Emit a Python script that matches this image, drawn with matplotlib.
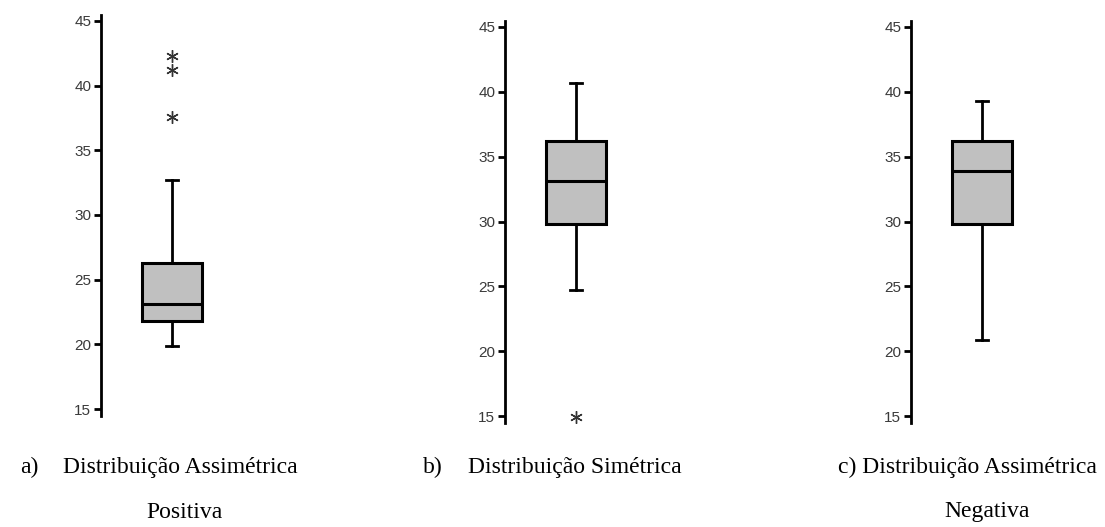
import matplotlib
matplotlib.use("Agg")
import matplotlib.pyplot as plt

# box summaries (whislo, q1, med, q3, whishi)
panels = ["a", "b", "c"]
whislo = [19.9, 24.7, 20.9]
q1 = [21.8, 29.8, 29.8]
med = [23.1, 33.1, 33.9]
q3 = [26.3, 36.2, 36.2]
whishi = [32.7, 40.7, 39.3]
fliers = [[37.6, 41.2, 42.3], [14.9], []]
yticks = [15, 20, 25, 30, 35, 40, 45]

captions = ["Distribuição Assimétrica", "Distribuição Simétrica", "Distribuição Assimétrica"]
prefixes = ["a)", "b)", "c)"]

W, H = 1105, 527
fig = plt.figure(figsize=(W / 100, H / 100), dpi=100)

# spine x position (px), top / bottom of axes (px)
spine_x = [101, 505, 911]
tops = [14.5, 20.5, 20.5]
bottoms = [415.5, 422.5, 422.5]

for i in range(3):
    left = spine_x[i] / W
    width = 142 / W
    bottom = 1 - bottoms[i] / H
    height = (bottoms[i] - tops[i]) / H
    ax = fig.add_axes([left, bottom, width, height])

    stats = [{
        "whislo": whislo[i], "q1": q1[i], "med": med[i],
        "q3": q3[i], "whishi": whishi[i], "fliers": fliers[i],
    }]
    ax.bxp(stats, positions=[1], widths=0.845, patch_artist=True,
           capwidths=0.17,
           boxprops=dict(facecolor="#c0c0c0", edgecolor="black", linewidth=2.2),
           medianprops=dict(color="black", linewidth=2.2),
           whiskerprops=dict(color="black", linewidth=2.0),
           capprops=dict(color="black", linewidth=2.0),
           flierprops=dict(marker=(6, 2, 0), markersize=9, markeredgecolor="#333333",
                           markeredgewidth=1.0, linestyle="none"))

    ax.set_xlim(0, 2)
    ax.set_ylim(14.5, 45.5)
    ax.set_yticks(yticks)
    ax.set_xticks([])
    for s in ["top", "right", "bottom"]:
        ax.spines[s].set_visible(False)
    ax.spines["left"].set_linewidth(2.0)
    ax.tick_params(axis="y", length=5, width=2.0, pad=2, labelsize=11,
                   labelcolor="#3a3a3a")
    for lab in ax.get_yticklabels():
        lab.set_fontfamily("Liberation Sans")
    ax.patch.set_alpha(0)

serif = "Liberation Serif"
fs = 17
fig.text(20 / W, 1 - 467 / H, prefixes[0], family=serif, fontsize=fs, va="center")
fig.text(63 / W, 1 - 467 / H, captions[0], family=serif, fontsize=fs, va="center")
fig.text(184 / W, 1 - 512 / H, "Positiva", family=serif, fontsize=fs, va="center", ha="center")
fig.text(423 / W, 1 - 467 / H, prefixes[1], family=serif, fontsize=fs, va="center")
fig.text(468 / W, 1 - 467 / H, captions[1], family=serif, fontsize=fs, va="center")
fig.text(838 / W, 1 - 467 / H, prefixes[2] + " " + captions[2], family=serif, fontsize=fs, va="center")
fig.text(987 / W, 1 - 512 / H, "Negativa", family=serif, fontsize=fs, va="center", ha="center")

fig.savefig("out.png", dpi=100)
